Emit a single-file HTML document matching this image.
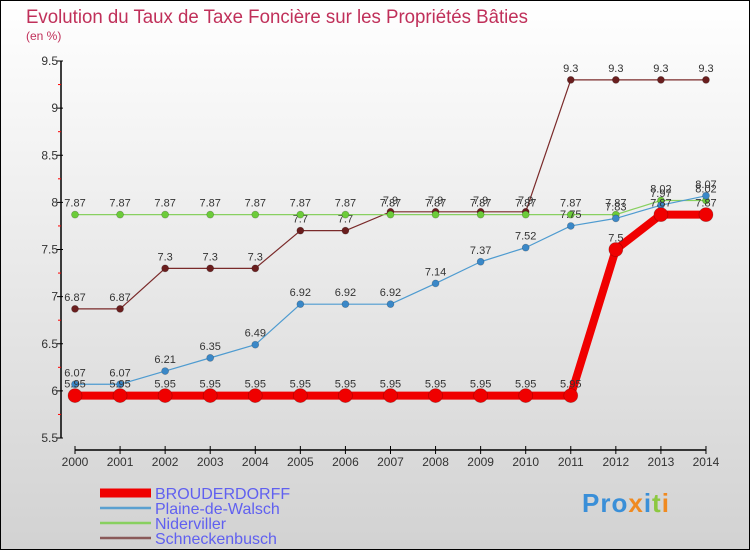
<!DOCTYPE html>
<html><head><meta charset="utf-8"><style>
html,body{margin:0;padding:0}
body{width:750px;height:550px;overflow:hidden;font-family:"Liberation Sans",sans-serif}
</style></head><body>
<svg width="750" height="550" xmlns="http://www.w3.org/2000/svg">
<defs><linearGradient id="bg" x1="0" y1="0" x2="0" y2="1"><stop offset="0" stop-color="#ffffff"/><stop offset="1" stop-color="#d2d2d2"/></linearGradient></defs>
<rect x="0.5" y="0.5" width="749" height="549" fill="url(#bg)" stroke="#000"/>
<text x="26" y="23" font-size="19" fill="#c0305a" textLength="502" lengthAdjust="spacingAndGlyphs">Evolution du Taux de Taxe Foncière sur les Propriétés Bâties</text>
<text x="26" y="40" font-size="12" fill="#c0305a">(en %)</text>
<g id="axes"></g>
<g id="series"></g>
<g id="legend"></g>
</svg>
<script>
const years=[2000,2001,2002,2003,2004,2005,2006,2007,2008,2009,2010,2011,2012,2013,2014];
const yTicks=[5.5,6,6.5,7,7.5,8,8.5,9,9.5];
const brouderdorff=[5.95,5.95,5.95,5.95,5.95,5.95,5.95,5.95,5.95,5.95,5.95,5.95,7.5,7.87,7.87];
const plaine=[6.07,6.07,6.21,6.35,6.49,6.92,6.92,6.92,7.14,7.37,7.52,7.75,7.83,7.97,8.07];
const nider=[7.87,7.87,7.87,7.87,7.87,7.87,7.87,7.87,7.87,7.87,7.87,7.87,7.87,8.02,8.02];
const schneck=[6.87,6.87,7.3,7.3,7.3,7.7,7.7,7.9,7.9,7.9,7.9,9.3,9.3,9.3,9.3];
const names=["BROUDERDORFF","Plaine-de-Walsch","Niderviller","Schneckenbusch"];
const NS="http://www.w3.org/2000/svg";
const X=i=>75+i*45.07;
const Y=v=>61+(9.5-v)*94.25;
function mk(tag,attrs,parent){const e=document.createElementNS(NS,tag);for(const k in attrs)e.setAttribute(k,attrs[k]);parent.appendChild(e);return e;}
const ax=document.getElementById('axes');
const yAxis=mk('line',{x1:61,y1:61,x2:61,y2:438,stroke:'#000','stroke-width':1.5},ax);


yTicks.forEach(t=>{
  const tk=mk('line',{x1:57,y1:Y(t),x2:63,y2:Y(t),stroke:'#000'},ax);
  
  
  const lb=mk('text',{x:58,y:Y(t)+4,'font-size':12,'text-anchor':'end',fill:'#333'},ax);
  lb.textContent=String(t);
  
  
  if(t<9.5){const m=mk('line',{x1:58,y1:Y(t+0.25),x2:61,y2:Y(t+0.25),stroke:'#f00'},ax);
  
  }
});
const xAxis=mk('line',{x1:75,y1:450,x2:X(years.length-1),y2:450,stroke:'#000','stroke-width':1.5},ax);


years.forEach((yr,i)=>{
  const tk=mk('line',{x1:X(i),y1:446,x2:X(i),y2:454,stroke:'#000'},ax);
  
  
  const lb=mk('text',{x:X(i),y:466,'font-size':12,'text-anchor':'middle',fill:'#333'},ax);
  lb.textContent=String(yr);
  
  
});
const sg=document.getElementById('series');
function series(data,line,dot,w,r,key){
  const g=mk('g',{},sg);
  
  
  const p=mk('polyline',{points:data.map((v,i)=>X(i)+','+Y(v)).join(' '),fill:'none',stroke:line,'stroke-width':w,'stroke-linejoin':'round'},g);
  
  
  data.forEach((v,i)=>{
    const c=mk('circle',{cx:X(i),cy:Y(v),r:r,fill:dot,stroke:'rgba(0,0,0,0.25)','stroke-width':0.7},g);
    
    
    const t=mk('text',{x:X(i),y:Y(v)-8,'font-size':11,'text-anchor':'middle',fill:'#333'},g);
    t.textContent=String(v);
    
    
  });
}
series(schneck,'#7a2a2a','#6a1e1e',1.2,3.5,'schneckenbusch');
series(nider,'#88d060','#6ccc3a',1.2,3.5,'niderviller');
series(plaine,'#4e9bd0','#3a88c8',1.2,3.5,'plaine-de-walsch');
series(brouderdorff,'#f00000','#f00000',8,7,'brouderdorff');
const lg=document.getElementById('legend');
const lc=['#f00000','#5aa0d0','#88d060','#8a5a5a'];
const lw=[9,2.5,2.5,2.5];
names.forEach((n,i)=>{
  const y=493+i*15;
  const g=mk('g',{},lg);
  
  
  const l=mk('line',{x1:100,y1:y,x2:151,y2:y,stroke:lc[i],'stroke-width':lw[i]},g);
  
  
  const t=mk('text',{x:155,y:y+6,'font-size':16,fill:'#6060f0'},g);
  t.textContent=n;
  
  
});
</script>
<div style="position:absolute;left:582px;top:488px;font:bold 26px 'Liberation Sans',sans-serif;letter-spacing:1px"><span style="color:#3a8fd8">Pro</span><span style="color:#f08a20">x</span><span style="color:#3a8fd8">i</span><span style="color:#8cc840">t</span><span style="color:#f08a20">i</span></div>
</body></html>
